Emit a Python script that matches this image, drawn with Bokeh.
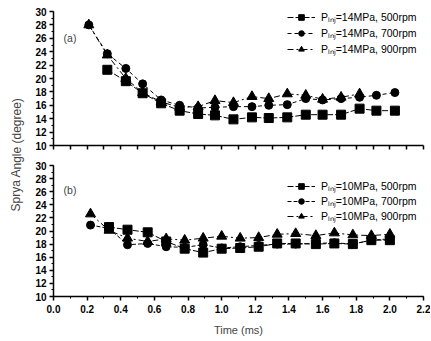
from bokeh.plotting import figure
from bokeh.layouts import column, row
from bokeh.models import (Legend, LegendItem, Label, SingleIntervalTicker, FixedTicker,
                          Range1d, PrintfTickFormatter)
from bokeh.embed import file_html
from bokeh.resources import INLINE

# ---- data ----
x_top = [0.21, 0.32, 0.43, 0.53, 0.64, 0.75, 0.86, 0.96, 1.07, 1.18, 1.28, 1.39,
         1.50, 1.60, 1.71, 1.82, 1.92, 2.03]
top_500 = [21.3, 19.6, 17.8, 16.3, 15.2, 14.7, 14.5, 13.9, 14.2, 14.1, 14.2, 14.6,
           14.6, 14.6, 15.5, 15.2, 15.2]
top_700 = [28.0, 23.7, 21.5, 19.2, 16.8, 16.0, 15.6, 15.7, 15.8, 15.8, 16.0, 16.1,
           17.0, 16.8, 17.0, 17.2, 17.5, 17.9]
top_900 = [28.0, 23.5, 20.0, 17.9, 16.5, 15.7, 15.8, 16.7, 16.4, 17.3, 17.0, 17.7,
           17.5, 16.9, 17.2, 17.7]

x_bot = [0.22, 0.33, 0.44, 0.56, 0.67, 0.78, 0.89, 1.00, 1.11, 1.22, 1.33, 1.44,
         1.56, 1.67, 1.78, 1.89, 2.00]
bot_500 = [20.6, 20.2, 19.8, 18.4, 17.3, 16.7, 17.3, 17.4, 17.6, 18.1, 18.1, 18.0,
           18.1, 18.0, 18.6, 18.6]
bot_700 = [20.9, 20.4, 17.9, 18.1, 17.6, 17.5, 17.9, 17.4, 17.6, 17.8, 18.0, 18.0,
           18.1, 18.2, 18.0, 18.6, 18.8]
bot_900 = [22.6, 20.1, 18.9, 18.4, 18.8, 18.6, 18.9, 19.2, 18.9, 19.0, 19.5, 19.6,
           19.3, 19.7, 19.4, 19.3, 19.5]

labels_top = ["P\u1d62\u2099\u2c7c=14MPa, 500rpm", "P\u1d62\u2099\u2c7c=14MPa, 700rpm",
              "P\u1d62\u2099\u2c7c=14MPa, 900rpm"]
labels_bot = ["P\u1d62\u2099\u2c7c=10MPa, 500rpm", "P\u1d62\u2099\u2c7c=10MPa, 700rpm",
              "P\u1d62\u2099\u2c7c=10MPa, 900rpm"]
y_title = "Sprya Angle (degree)"
x_title = "Time (ms)"

FONT = "Liberation Sans"
FS = "10px"
LFS = "10.5px"


def style(p, show_xlabels):
    p.outline_line_color = None
    p.grid.visible = False
    p.background_fill_color = "white"
    p.border_fill_color = "white"
    for ax in (p.xaxis[0], p.yaxis[0]):
        ax.axis_line_color = "black"
        ax.axis_line_width = 1.5
        ax.major_tick_in = 0
        ax.major_tick_out = 4
        ax.minor_tick_in = 0
        ax.minor_tick_out = 2
        ax.major_tick_line_width = 1.5
        ax.major_tick_line_color = "black"
        ax.minor_tick_line_color = "black"
        ax.major_label_text_font = FONT
        ax.major_label_text_font_size = FS
        ax.major_label_text_color = "black"
        ax.major_label_text_font_style = "bold"
    p.yaxis[0].ticker = SingleIntervalTicker(interval=2, num_minor_ticks=2)
    p.yaxis[0].major_label_standoff = 3
    if show_xlabels:
        p.xaxis[0].ticker = SingleIntervalTicker(interval=0.2, num_minor_ticks=2)
        p.xaxis[0].formatter = PrintfTickFormatter(format="%.1f")
        p.xaxis[0].major_label_standoff = 4
    else:
        p.xaxis[0].ticker = FixedTicker(ticks=[], minor_ticks=[i / 10 for i in range(23)])
        p.xaxis[0].minor_tick_out = 4
        p.xaxis[0].minor_tick_line_width = 1.5


def panel(height, border_top, border_bottom, show_xlabels):
    p = figure(width=402, height=height, output_backend="svg", toolbar_location=None,
               x_range=Range1d(0, 2.2), y_range=Range1d(10, 30),
               min_border_left=25, min_border_right=7,
               min_border_top=border_top, min_border_bottom=border_bottom)
    style(p, show_xlabels)
    return p


def add_series(p, xs, ys, marker, size, dash, labels_list, idx):
    lr = p.line(xs, ys, line_color="black", line_width=1, line_dash=dash)
    sr = p.scatter(xs, ys, marker=marker, size=size, fill_color="black",
                   line_color="black")
    return LegendItem(label=labels_list[idx], renderers=[lr, sr])


def add_legend(p, items, loc, spacing):
    leg = Legend(items=items, location=loc, padding=0, margin=0, spacing=spacing,
                 glyph_width=28, glyph_height=14, label_standoff=6,
                 label_text_font=FONT, label_text_font_size=LFS,
                 label_text_color="black", label_height=14,
                 border_line_color=None, background_fill_alpha=0)
    p.add_layout(leg)


# ---- top panel ----
p1 = panel(155, 11, 10, False)
it = [add_series(p1, x_top[1:], top_500, "square", 9, "6 2", labels_top, 0),
      add_series(p1, x_top, top_700, "circle", 8, "4 3", labels_top, 1),
      add_series(p1, x_top[:len(top_900)], top_900, "triangle", 10, "6 3 2 3", labels_top, 2)]
add_legend(p1, it, (234, 89), 2)
p1.add_layout(Label(x=0.06, y=26, text="(a)", text_font=FONT, text_font_size=LFS,
                    text_baseline="middle"))

# ---- bottom panel ----
p2 = panel(183, 10, 41, True)
it2 = [add_series(p2, x_bot[1:], bot_500, "square", 9, "6 2", labels_bot, 0),
       add_series(p2, x_bot, bot_700, "circle", 8, "4 2", labels_bot, 1),
       add_series(p2, x_bot, bot_900, "triangle", 10, "6 3 2 3", labels_bot, 2)]
add_legend(p2, it2, (234, 73), 1)
p2.add_layout(Label(x=0.06, y=26.2, text="(b)", text_font=FONT, text_font_size=LFS,
                    text_baseline="middle"))
p2.xaxis[0].axis_label = x_title
p2.xaxis[0].axis_label_text_font = FONT
p2.xaxis[0].axis_label_text_font_size = "11px"
p2.xaxis[0].axis_label_text_font_style = "normal"
p2.xaxis[0].axis_label_standoff = 8

# ---- y title strip ----
lab = figure(width=28, height=338, output_backend="svg", toolbar_location=None,
             x_range=Range1d(0, 1), y_range=Range1d(0, 1),
             min_border=0, x_axis_type=None, y_axis_type=None)
lab.outline_line_color = None
lab.grid.visible = False
lab.add_layout(Label(x=16, y=184, x_units="screen", y_units="screen", text=y_title,
                     angle=1.5707963, text_align="center", text_baseline="middle",
                     text_font=FONT, text_font_size="12px"))

layout = row(lab, column(p1, p2, spacing=0), spacing=0)

open("out.html", "w").write(file_html(layout, INLINE))
